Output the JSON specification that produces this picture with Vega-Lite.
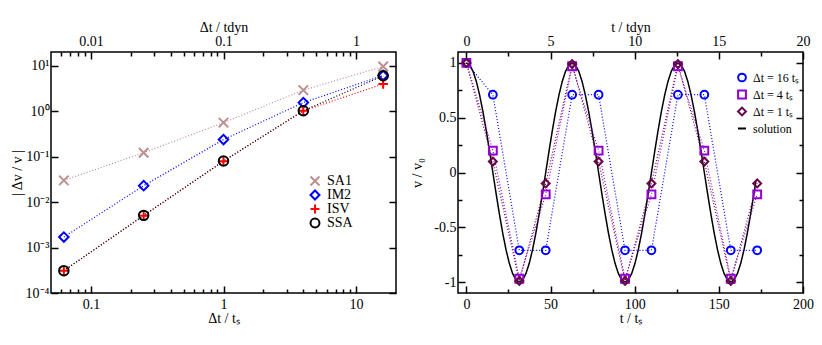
{
  "$schema": "https://vega.github.io/schema/vega-lite/v6.json",
  "padding": {"left": 9, "top": 19, "right": 0, "bottom": 0},
  "spacing": 12,
  "resolve": {"scale": {"color": "independent", "shape": "independent", "size": "independent"}, "legend": {"color": "independent", "shape": "independent", "size": "independent"}},
  "config": {
    "font": "Liberation Serif",
    "view": {"stroke": "black", "strokeWidth": 1.5},
    "axis": {"domain": false, "grid": false, "tickColor": "black", "tickWidth": 1.5, "labelColor": "black", "titleColor": "black", "labelFont": "Liberation Serif", "titleFont": "Liberation Serif", "labelFontSize": 14, "titleFontSize": 14, "titleFontWeight": "normal", "labelFlush": false, "labelOverlap": false},
    "legend": {"labelFont": "Liberation Serif", "labelFontSize": 14, "labelColor": "black", "padding": 0, "rowPadding": 0, "symbolStrokeWidth": 2, "symbolSize": 80, "labelOffset": 5}
  },
  "datasets": {
    "err": [
      {"x": 0.0625, "y": 0.030, "m": "SA1"}, {"x": 0.25, "y": 0.122, "m": "SA1"}, {"x": 1, "y": 0.56, "m": "SA1"}, {"x": 4, "y": 2.9, "m": "SA1"}, {"x": 16, "y": 9.6, "m": "SA1"},
      {"x": 0.0625, "y": 0.0017, "m": "IM2"}, {"x": 0.25, "y": 0.023, "m": "IM2"}, {"x": 1, "y": 0.237, "m": "IM2"}, {"x": 4, "y": 1.54, "m": "IM2"}, {"x": 16, "y": 6.1, "m": "IM2"},
      {"x": 0.0625, "y": 0.00031, "m": "ISV"}, {"x": 0.25, "y": 0.0050, "m": "ISV"}, {"x": 1, "y": 0.079, "m": "ISV"}, {"x": 4, "y": 1.02, "m": "ISV"}, {"x": 16, "y": 3.95, "m": "ISV"},
      {"x": 0.0625, "y": 0.00031, "m": "SSA"}, {"x": 0.25, "y": 0.0051, "m": "SSA"}, {"x": 1, "y": 0.080, "m": "SSA"}, {"x": 4, "y": 1.02, "m": "SSA"}, {"x": 16, "y": 6.0, "m": "SSA"}
    ],
    "num": [
      {"t": 0, "v": 1, "s": "Δt = 16 tₛ"}, {"t": 15.708, "v": 0.71, "s": "Δt = 16 tₛ"}, {"t": 31.416, "v": -0.71, "s": "Δt = 16 tₛ"}, {"t": 47.124, "v": -0.71, "s": "Δt = 16 tₛ"}, {"t": 62.832, "v": 0.71, "s": "Δt = 16 tₛ"}, {"t": 78.540, "v": 0.71, "s": "Δt = 16 tₛ"}, {"t": 94.248, "v": -0.71, "s": "Δt = 16 tₛ"}, {"t": 109.956, "v": -0.71, "s": "Δt = 16 tₛ"}, {"t": 125.664, "v": 0.71, "s": "Δt = 16 tₛ"}, {"t": 141.372, "v": 0.71, "s": "Δt = 16 tₛ"}, {"t": 157.080, "v": -0.71, "s": "Δt = 16 tₛ"}, {"t": 172.788, "v": -0.71, "s": "Δt = 16 tₛ"},
      {"t": 0, "v": 1, "s": "Δt = 4 tₛ"}, {"t": 15.708, "v": 0.2, "s": "Δt = 4 tₛ"}, {"t": 31.416, "v": -0.97, "s": "Δt = 4 tₛ"}, {"t": 47.124, "v": -0.2, "s": "Δt = 4 tₛ"}, {"t": 62.832, "v": 0.97, "s": "Δt = 4 tₛ"}, {"t": 78.540, "v": 0.2, "s": "Δt = 4 tₛ"}, {"t": 94.248, "v": -0.97, "s": "Δt = 4 tₛ"}, {"t": 109.956, "v": -0.2, "s": "Δt = 4 tₛ"}, {"t": 125.664, "v": 0.97, "s": "Δt = 4 tₛ"}, {"t": 141.372, "v": 0.2, "s": "Δt = 4 tₛ"}, {"t": 157.080, "v": -0.97, "s": "Δt = 4 tₛ"}, {"t": 172.788, "v": -0.2, "s": "Δt = 4 tₛ"},
      {"t": 0, "v": 1, "s": "Δt = 1 tₛ"}, {"t": 15.708, "v": 0.1, "s": "Δt = 1 tₛ"}, {"t": 31.416, "v": -0.99, "s": "Δt = 1 tₛ"}, {"t": 47.124, "v": -0.1, "s": "Δt = 1 tₛ"}, {"t": 62.832, "v": 0.99, "s": "Δt = 1 tₛ"}, {"t": 78.540, "v": 0.1, "s": "Δt = 1 tₛ"}, {"t": 94.248, "v": -0.99, "s": "Δt = 1 tₛ"}, {"t": 109.956, "v": -0.1, "s": "Δt = 1 tₛ"}, {"t": 125.664, "v": 0.99, "s": "Δt = 1 tₛ"}, {"t": 141.372, "v": 0.1, "s": "Δt = 1 tₛ"}, {"t": 157.080, "v": -0.99, "s": "Δt = 1 tₛ"}, {"t": 172.788, "v": -0.1, "s": "Δt = 1 tₛ"}
    ],
    "sol": [
      {"t": 0, "v": 1}, {"t": 1.963, "v": 0.98079}, {"t": 3.927, "v": 0.92388}, {"t": 5.890, "v": 0.83147}, {"t": 7.854, "v": 0.70711}, {"t": 9.817, "v": 0.55557}, {"t": 11.781, "v": 0.38268}, {"t": 13.744, "v": 0.19509},
      {"t": 15.708, "v": 0}, {"t": 17.671, "v": -0.19509}, {"t": 19.635, "v": -0.38268}, {"t": 21.598, "v": -0.55557}, {"t": 23.562, "v": -0.70711}, {"t": 25.525, "v": -0.83147}, {"t": 27.489, "v": -0.92388}, {"t": 29.452, "v": -0.98079},
      {"t": 31.416, "v": -1}, {"t": 33.379, "v": -0.98079}, {"t": 35.343, "v": -0.92388}, {"t": 37.306, "v": -0.83147}, {"t": 39.270, "v": -0.70711}, {"t": 41.233, "v": -0.55557}, {"t": 43.197, "v": -0.38268}, {"t": 45.160, "v": -0.19509},
      {"t": 47.124, "v": 0}, {"t": 49.087, "v": 0.19509}, {"t": 51.051, "v": 0.38268}, {"t": 53.014, "v": 0.55557}, {"t": 54.978, "v": 0.70711}, {"t": 56.941, "v": 0.83147}, {"t": 58.905, "v": 0.92388}, {"t": 60.868, "v": 0.98079},
      {"t": 62.832, "v": 1}, {"t": 64.795, "v": 0.98079}, {"t": 66.759, "v": 0.92388}, {"t": 68.722, "v": 0.83147}, {"t": 70.686, "v": 0.70711}, {"t": 72.649, "v": 0.55557}, {"t": 74.613, "v": 0.38268}, {"t": 76.576, "v": 0.19509},
      {"t": 78.540, "v": 0}, {"t": 80.503, "v": -0.19509}, {"t": 82.467, "v": -0.38268}, {"t": 84.430, "v": -0.55557}, {"t": 86.394, "v": -0.70711}, {"t": 88.357, "v": -0.83147}, {"t": 90.321, "v": -0.92388}, {"t": 92.284, "v": -0.98079},
      {"t": 94.248, "v": -1}, {"t": 96.211, "v": -0.98079}, {"t": 98.175, "v": -0.92388}, {"t": 100.138, "v": -0.83147}, {"t": 102.102, "v": -0.70711}, {"t": 104.065, "v": -0.55557}, {"t": 106.029, "v": -0.38268}, {"t": 107.992, "v": -0.19509},
      {"t": 109.956, "v": 0}, {"t": 111.919, "v": 0.19509}, {"t": 113.883, "v": 0.38268}, {"t": 115.846, "v": 0.55557}, {"t": 117.810, "v": 0.70711}, {"t": 119.773, "v": 0.83147}, {"t": 121.737, "v": 0.92388}, {"t": 123.700, "v": 0.98079},
      {"t": 125.664, "v": 1}, {"t": 127.627, "v": 0.98079}, {"t": 129.591, "v": 0.92388}, {"t": 131.554, "v": 0.83147}, {"t": 133.518, "v": 0.70711}, {"t": 135.481, "v": 0.55557}, {"t": 137.445, "v": 0.38268}, {"t": 139.408, "v": 0.19509},
      {"t": 141.372, "v": 0}, {"t": 143.335, "v": -0.19509}, {"t": 145.299, "v": -0.38268}, {"t": 147.262, "v": -0.55557}, {"t": 149.226, "v": -0.70711}, {"t": 151.189, "v": -0.83147}, {"t": 153.153, "v": -0.92388}, {"t": 155.116, "v": -0.98079},
      {"t": 157.080, "v": -1}, {"t": 159.043, "v": -0.98079}, {"t": 161.007, "v": -0.92388}, {"t": 162.970, "v": -0.83147}, {"t": 164.934, "v": -0.70711}, {"t": 166.897, "v": -0.55557}, {"t": 168.861, "v": -0.38268}, {"t": 170.824, "v": -0.19509},
      {"t": 172.0, "v": -0.08}
    ]
  },
  "hconcat": [
    {
      "width": 345,
      "height": 241,
      "data": {"name": "err"},
      "resolve": {"axis": {"x": "independent", "y": "independent"}},
      "layer": [
        {
          "mark": {"type": "line", "strokeDash": [1, 2], "strokeWidth": 1.2},
          "encoding": {
            "x": {"field": "x", "type": "quantitative", "scale": {"type": "log", "domain": [0.05, 20], "nice": false},
              "axis": {"orient": "bottom", "values": [0.1, 1, 10], "tickSize": -7, "labelPadding": 11, "labelExpr": "'' + datum.value", "title": "Δt / tₛ", "titlePadding": 0}},
            "y": {"field": "y", "type": "quantitative", "scale": {"type": "log", "domain": [0.0001, 20], "nice": false},
              "axis": {"orient": "left", "values": [0.0001, 0.001, 0.01, 0.1, 1, 10], "tickSize": -7, "labelPadding": 9, "labelExpr": "datum.value >= 10 ? '10¹' : datum.value >= 1 ? '10⁰' : datum.value >= 0.1 ? '10⁻¹' : datum.value >= 0.01 ? '10⁻²' : datum.value >= 0.001 ? '10⁻³' : '10⁻⁴'", "title": "| Δv / v |", "titlePadding": 1}},
            "color": {"field": "m", "type": "nominal", "scale": {"domain": ["SA1", "IM2", "ISV", "SSA"], "range": ["#bc8f8f", "#0000ff", "#ff0000", "#000000"]},
              "legend": {"title": null, "orient": "none", "legendX": 257, "legendY": 122, "rowPadding": 0, "clipHeight": 14}}
          }
        },
        {
          "mark": {"type": "point", "filled": false, "strokeWidth": 2, "size": 90, "opacity": 1},
          "encoding": {
            "x": {"field": "x", "type": "quantitative", "axis": {"orient": "bottom", "values": [0.06, 0.07, 0.08, 0.09, 0.2, 0.3, 0.4, 0.5, 0.6, 0.7, 0.8, 0.9, 2, 3, 4, 5, 6, 7, 8, 9], "tickSize": -4, "labels": false, "title": null}},
            "y": {"field": "y", "type": "quantitative", "axis": {"orient": "right", "values": [0.0001, 0.001, 0.01, 0.1, 1, 10], "tickSize": -7, "labels": false, "title": null}},
            "color": {"field": "m", "type": "nominal", "scale": {"domain": ["SA1", "IM2", "ISV", "SSA"], "range": ["#bc8f8f", "#0000ff", "#ff0000", "#000000"]},
              "legend": {"title": null, "orient": "none", "legendX": 257, "legendY": 122, "rowPadding": 0, "clipHeight": 14}},
            "shape": {"field": "m", "type": "nominal", "scale": {"domain": ["SA1", "IM2", "ISV", "SSA"], "range": ["M-1,-1L1,1M-1,1L1,-1", "diamond", "M-1,0L1,0M0,-1L0,1", "circle"]},
              "legend": {"title": null, "orient": "none", "legendX": 257, "legendY": 122, "rowPadding": 0, "clipHeight": 14}}
          }
        },
        {
          "mark": {"type": "point", "opacity": 0},
          "encoding": {
            "x": {"field": "x", "type": "quantitative", "axis": {"orient": "top", "values": [0.1, 1, 10], "tickSize": -7, "labelPadding": 11, "labelExpr": "'' + (datum.value / 10)", "title": "Δt / tdyn", "titlePadding": 0}},
            "y": {"field": "y", "type": "quantitative", "axis": null}
          }
        },
        {
          "mark": {"type": "point", "opacity": 0},
          "encoding": {
            "x": {"field": "x", "type": "quantitative", "axis": {"orient": "top", "values": [0.06, 0.07, 0.08, 0.09, 0.2, 0.3, 0.4, 0.5, 0.6, 0.7, 0.8, 0.9, 2, 3, 4, 5, 6, 7, 8, 9], "tickSize": -4, "labels": false, "title": null}},
            "y": {"field": "y", "type": "quantitative", "axis": null}
          }
        }
      ]
    },
    {
      "width": 345,
      "height": 241,
      "resolve": {"axis": {"x": "independent", "y": "independent"}},
      "layer": [
        {
          "data": {"name": "sol"},
          "mark": {"type": "line", "color": "black", "strokeWidth": 1.5},
          "encoding": {
            "x": {"field": "t", "type": "quantitative", "scale": {"domain": [-5, 200], "nice": false, "zero": false},
              "axis": {"orient": "bottom", "values": [0, 50, 100, 150, 200], "tickSize": -7, "labelPadding": 11, "labelExpr": "'' + datum.value", "title": "t / tₛ", "titlePadding": 0}},
            "y": {"field": "v", "type": "quantitative", "scale": {"domain": [-1.1, 1.1], "nice": false, "zero": false},
              "axis": {"orient": "left", "values": [-1, -0.5, 0, 0.5, 1], "tickSize": -7, "labelPadding": 9, "labelExpr": "'' + datum.value", "title": "v / v₀", "titlePadding": 9}}
          }
        },
        {
          "data": {"name": "num"},
          "mark": {"type": "line", "strokeDash": [1, 2], "strokeWidth": 1.2},
          "encoding": {
            "x": {"field": "t", "type": "quantitative", "axis": {"orient": "bottom", "values": [25, 75, 125, 175], "tickSize": -4, "labels": false, "title": null}},
            "y": {"field": "v", "type": "quantitative", "axis": {"orient": "left", "values": [-0.75, -0.25, 0.25, 0.75], "tickSize": -4, "labels": false, "title": null}},
            "color": {"field": "s", "type": "nominal", "scale": {"domain": ["Δt = 16 tₛ", "Δt = 4 tₛ", "Δt = 1 tₛ", "solution"], "range": ["#0000ff", "#9400d3", "#670748", "#000000"]},
              "legend": {"title": null, "orient": "none", "legendX": 278, "legendY": 17, "rowPadding": 0, "clipHeight": 17, "labelFontSize": 12}}
          }
        },
        {
          "data": {"name": "num"},
          "mark": {"type": "point", "filled": false, "strokeWidth": 2, "opacity": 1},
          "encoding": {
            "x": {"field": "t", "type": "quantitative", "axis": {"orient": "top", "values": [0, 50, 100, 150, 200], "tickSize": -7, "labelPadding": 11, "labelExpr": "'' + (datum.value / 10)", "title": "t / tdyn", "titlePadding": 0}},
            "y": {"field": "v", "type": "quantitative", "axis": {"orient": "right", "values": [-1, -0.5, 0, 0.5, 1], "tickSize": -7, "labels": false, "title": null}},
            "color": {"field": "s", "type": "nominal", "scale": {"domain": ["Δt = 16 tₛ", "Δt = 4 tₛ", "Δt = 1 tₛ", "solution"], "range": ["#0000ff", "#9400d3", "#670748", "#000000"]},
              "legend": {"title": null, "orient": "none", "legendX": 278, "legendY": 17, "rowPadding": 0, "clipHeight": 17, "labelFontSize": 12}},
            "shape": {"field": "s", "type": "nominal", "scale": {"domain": ["Δt = 16 tₛ", "Δt = 4 tₛ", "Δt = 1 tₛ", "solution"], "range": ["circle", "square", "diamond", "stroke"]},
              "legend": {"title": null, "orient": "none", "legendX": 278, "legendY": 17, "rowPadding": 0, "clipHeight": 17, "labelFontSize": 12}},
            "size": {"field": "s", "type": "nominal", "scale": {"domain": ["Δt = 16 tₛ", "Δt = 4 tₛ", "Δt = 1 tₛ", "solution"], "range": [60, 64, 144, 100]}, "legend": null}
          }
        },
        {
          "data": {"name": "num"},
          "mark": {"type": "point", "opacity": 0},
          "encoding": {
            "x": {"field": "t", "type": "quantitative", "axis": {"orient": "top", "values": [25, 75, 125, 175], "tickSize": -4, "labels": false, "title": null}},
            "y": {"field": "v", "type": "quantitative", "axis": {"orient": "right", "values": [-0.75, -0.25, 0.25, 0.75], "tickSize": -4, "labels": false, "title": null}}
          }
        }
      ]
    }
  ]
}
